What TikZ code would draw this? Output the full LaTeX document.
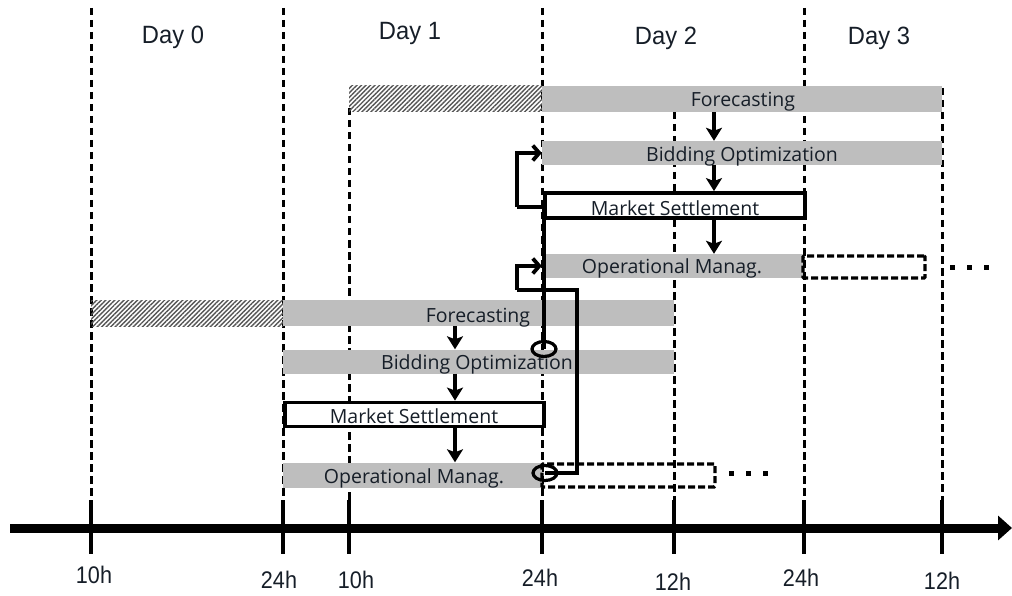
\documentclass[tikz,border=0pt]{standalone}
\usepackage{fontspec}
\setmainfont{Liberation Sans}
\newfontfamily\barfont{Open Sans}
\newfontfamily\axfont[FakeStretch=0.9]{Liberation Sans}
\newfontfamily\dayfont[FakeStretch=0.95]{Liberation Sans}
\usetikzlibrary{arrows.meta,patterns.meta,shapes.geometric}
\definecolor{barg}{RGB}{190,190,190}
\definecolor{txt}{RGB}{22,30,40}
\definecolor{hatchc}{RGB}{85,85,85}
\tikzset{
  vdash/.style={line width=3pt,dash pattern=on 7.5pt off 4.5pt},
  graybar/.style={fill=barg,draw=none,rectangle,inner sep=0pt},
  hatchbar/.style={pattern={Lines[angle=45,distance=3.2pt,line width=1.4pt]},pattern color=hatchc,draw=none,rectangle,inner sep=0pt},
  msbox/.style={fill=white,draw=black,line width=3.8pt,rectangle,inner sep=0pt},
  dbox/.style={draw=black,line width=3.4pt,dash pattern=on 7pt off 3pt,rectangle,inner sep=0pt,rounded corners=1pt},
  btext/.style={font=\barfont\fontsize{19.5}{22}\selectfont,text=txt,inner sep=0pt,anchor=base},
  daytext/.style={font=\dayfont\fontsize{25}{28}\selectfont,text=txt,inner sep=0pt,anchor=base},
  axtext/.style={font=\axfont\fontsize{24}{28}\selectfont,text=txt,inner sep=0pt,anchor=base},
  downarr/.style={line width=4.8pt,-{Stealth[length=13pt,width=16pt,inset=3pt]}},
  fb/.style={line width=4.5pt,-{Straight Barb[length=6.5pt,width=15pt,line width=3.8pt]}},
  fbline/.style={line width=4.5pt},
  ell/.style={ellipse,draw=black,line width=3.2pt,minimum width=24pt,minimum height=15pt,inner sep=0pt},
  tick/.style={line width=3.8pt},
  dots/.style={fill=black,draw=none,rectangle,minimum size=5pt,inner sep=0pt}
}
\begin{document}
\begin{tikzpicture}[x=1pt,y=-1pt]
\useasboundingbox (0,0) rectangle (1012,596);
% dashed vertical lines
\foreach \nm/\x/\t in {v1/91/8, v2/283/8, v3/349/108, v4/542/8, v5/674/112, v6/804/8, v7/942/88}{
  \coordinate (\nm t) at (\x,\t);
  \coordinate (\nm b) at (\x,500);
  \draw[vdash] (\nm t) -- (\nm b);
}
% top group (Day 2)
\node[hatchbar,minimum width=193pt,minimum height=26pt] (h2) at (445.5,99) {};
\node[graybar,minimum width=400pt,minimum height=26pt] (f2) at (742,99) {};
\node[graybar,minimum width=400pt,minimum height=24pt] (b2) at (742,153) {};
\node[msbox,minimum width=260pt,minimum height=25pt] (m2) at (675,205.5) {};
\node[graybar,minimum width=261pt,minimum height=24pt] (o2) at (672.5,266) {};
\node[dbox,minimum width=122pt,minimum height=22pt] (d2) at (864,267) {};
\node[dots] (p21) at (952,267) {};
\node[dots] (p22) at (969,267) {};
\node[dots] (p23) at (986,267) {};
% bottom group (Day 1)
\node[hatchbar,minimum width=192pt,minimum height=26pt] (h1) at (187,313) {};
\node[graybar,minimum width=391pt,minimum height=26pt] (f1) at (478.5,313) {};
\node[graybar,minimum width=391pt,minimum height=24pt] (b1) at (478.5,361.5) {};
\node[msbox,minimum width=259pt,minimum height=24pt] (m1) at (414.5,414.5) {};
\node[graybar,minimum width=259pt,minimum height=25pt] (o1) at (412.5,475) {};
\node[dbox,minimum width=173pt,minimum height=23pt] (d1) at (628.5,475.5) {};
\node[dots] (p11) at (731,473) {};
\node[dots] (p12) at (748,473) {};
\node[dots] (p13) at (765,473) {};
% bar texts
\node[btext] (tf2) at (743,107) {Forecasting};
\node[btext] (tb2) at (742,162) {Bidding Optimization};
\node[btext] (tm2) at (675,215) {Market Settlement};
\node[btext] (to2) at (672,273) {Operational Manag.};
\node[btext] (tf1) at (478,322) {Forecasting};
\node[btext] (tb1) at (477,369) {Bidding Optimization};
\node[btext] (tm1) at (414,423) {Market Settlement};
\node[btext] (to1) at (414,483) {Operational Manag.};
% down arrows
\coordinate (ax2) at (714,0);
\coordinate (ax1) at (455,0);
\draw[downarr] (f2.south -| ax2) -- (b2.north -| ax2);
\draw[downarr] (b2.south -| ax2) -- (m2.north -| ax2);
\draw[downarr] (m2.south -| ax2) -- (o2.north -| ax2);
\draw[downarr] (f1.south -| ax1) -- (b1.north -| ax1);
\draw[downarr] (b1.south -| ax1) -- (m1.north -| ax1);
\draw[downarr] (m1.south -| ax1) -- (o1.north -| ax1);
% feedback loops
\node[ell] (e1) at (544,349) {};
\node[ell] (e2) at (545,473) {};
\coordinate (c1) at (517,207);
\coordinate (c2) at (577,290);
\coordinate (c3) at (517,290);
\draw[fbline] (e1.center) |- (c1);
\draw[fb] (c1) |- (b2.west);
\draw[fbline] (e2.center) -| (c2) -- (c3);
\draw[fb] (c3) |- (o2.west);
% day labels
\node[daytext] (d0) at (173,43.5) {Day 0};
\node[daytext] (d1l) at (410,40) {Day 1};
\node[daytext] (d2l) at (666,45) {Day 2};
\node[daytext] (d3l) at (879,45) {Day 3};
% axis
\coordinate (axs) at (10,528);
\coordinate (axe) at (1012,528);
\draw[line width=9pt,-{Triangle[length=14pt,width=24pt]}] (axs) -- (axe);
\foreach \nm/\x/\lx/\lab/\bl in {k1/91/94/10h/583, k2/283/279/24h/588, k3/349/356/10h/588, k4/542/540/24h/586, k5/674/673/12h/590, k6/804/801/24h/586, k7/942/942/12h/589}{
  \coordinate (\nm a) at (\x,500);
  \coordinate (\nm b) at (\x,554);
  \draw[tick] (\nm a) -- (\nm b);
  \node[axtext] (\nm l) at (\lx,\bl) {\lab};
}
\end{tikzpicture}
\end{document}
